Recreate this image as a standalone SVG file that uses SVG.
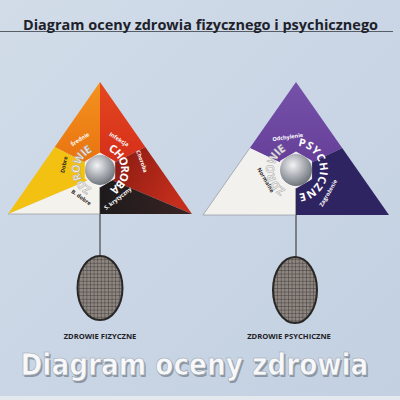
<svg xmlns="http://www.w3.org/2000/svg" width="400" height="400" viewBox="0 0 400 400">
<defs>
<linearGradient id="bg" x1="0" y1="0" x2="1" y2="1">
<stop offset="0" stop-color="#d2dce9"/><stop offset="1" stop-color="#c2d0e1"/>
</linearGradient>
<radialGradient id="sphere" cx="0.4" cy="0.35" r="0.7">
<stop offset="0" stop-color="#f2f3f5"/><stop offset="0.5" stop-color="#acb0b6"/><stop offset="1" stop-color="#676c73"/>
</radialGradient>
<linearGradient id="orange" x1="0" y1="0" x2="0" y2="1"><stop offset="0" stop-color="#f3931f"/><stop offset="1" stop-color="#e8700f"/></linearGradient>
<linearGradient id="red" x1="0" y1="0" x2="0" y2="1"><stop offset="0" stop-color="#e4481f"/><stop offset="1" stop-color="#d42c1a"/></linearGradient>
<linearGradient id="dred" x1="0" y1="0" x2="1" y2="0.4"><stop offset="0" stop-color="#7d1711"/><stop offset="1" stop-color="#c52e1c"/></linearGradient>
<linearGradient id="black" x1="0" y1="0" x2="1" y2="0"><stop offset="0" stop-color="#1d1a1b"/><stop offset="1" stop-color="#3a2424"/></linearGradient>
<linearGradient id="purple" x1="0" y1="0" x2="0" y2="1"><stop offset="0" stop-color="#7552a8"/><stop offset="1" stop-color="#653d98"/></linearGradient>
<pattern id="grid" width="3.6" height="3.6" patternUnits="userSpaceOnUse">
<rect width="3.6" height="3.6" fill="#8e8680"/>
<path d="M0 0H3.6M0 0V3.6" stroke="#3b3535" stroke-width="0.9"/>
</pattern>
<path id="arcL1" d="M107.87,150.53 A21,21 0 0 1 107.87,189.47"/>
<path id="arcL2" d="M91.55,188.13 A20,20 0 0 1 93.16,151.21"/>
<path id="arcR1" d="M298.09,146.09 A24,24 0 0 1 298.09,193.91"/>
<path id="arcR2" d="M285.67,189.42 A22,22 0 0 1 287.76,149.60"/>
</defs>
<style>
.lbl{font-family:"Open Sans","Liberation Sans",sans-serif;font-weight:bold;font-size:5.5px;text-anchor:middle}
.lw{fill:#ffffff}
.ld{fill:#2e2a2a}
.big{font-family:"Open Sans","Liberation Sans",sans-serif;font-weight:bold;font-size:11px}
.bw{fill:#ffffff}
.bg{fill:#f3f3f3;stroke:#a9a9a9;stroke-width:0.5}
.cap{font-family:"Open Sans","Liberation Sans",sans-serif;font-weight:bold;font-size:7.6px;fill:#222226;text-anchor:middle}
.edge{fill:none;stroke:#8f969f;stroke-width:0.7}
.hex{fill:#e6e8eb;stroke:#ffffff;stroke-width:0.8}
.foot{font-family:"DejaVu Sans","Liberation Sans",sans-serif;font-weight:bold;font-size:31px}
</style>
<rect width="400" height="400" fill="url(#bg)"/>
<rect x="0" y="396" width="400" height="4" fill="#e4e9ef"/>

<g id="header">
<line x1="0" y1="31.5" x2="393" y2="31.5" stroke="#3a3d44" stroke-width="0.8"/>
<text x="23" y="30" font-family="'Open Sans','Liberation Sans',sans-serif" font-weight="bold" font-size="13.5" fill="#20212b" textLength="355" lengthAdjust="spacingAndGlyphs">Diagram oceny zdrowia fizycznego i psychicznego</text>
</g>

<g id="connectors" stroke="#2b2b2b" stroke-width="1">
<line x1="100" y1="214" x2="100" y2="257"/>
<line x1="296" y1="215" x2="296" y2="257"/>
</g>

<g id="triangle-fizyczne">
<polygon points="100,170 100,82 54.7,147" fill="url(#orange)"/>
<polygon points="100,170 100,82 145.3,147" fill="url(#red)"/>
<polygon points="100,170 145.3,147 192,214 114,181" fill="url(#dred)"/>
<polygon points="100,170 114,181 192,214 100,214" fill="url(#black)"/>
<polygon points="100,170 100,214 8,214 86,181" fill="#f4f2ec"/>
<polygon points="100,170 86,181 8,214 54.7,147" fill="#f3c112"/>
<polyline class="edge" points="8,214 100,214"/>
<line x1="100" y1="187" x2="100" y2="214" stroke="#2b2b2b" stroke-width="0.8"/>
<polygon class="hex" points="100,153 114.7,161.5 114.7,178.5 100,187 85.3,178.5 85.3,161.5"/>
<circle cx="100" cy="170" r="15" fill="url(#sphere)"/>
<text class="big bw"><textPath href="#arcL1" textLength="48" lengthAdjust="spacing">CHOROBA</textPath></text>
<text class="big bg"><textPath href="#arcL2" textLength="46" lengthAdjust="spacing">ZDROWIE</textPath></text>
<text class="lbl lw" transform="translate(81,141) rotate(-32)">Średnie</text>
<text class="lbl lw" transform="translate(118,141) rotate(32)">Infekcja</text>
<text class="lbl lw" transform="translate(140,162) rotate(70)">Choroba</text>
<text class="lbl lw" transform="translate(119,200) rotate(-38)">S. krytyczny</text>
<text class="lbl ld" transform="translate(80,199) rotate(35)">B. dobre</text>
<text class="lbl ld" transform="translate(66,165) rotate(-78)">Dobre</text>
</g>

<g id="triangle-psychiczne">
<polygon points="296,170 249.8,148 296,82 342.2,148" fill="url(#purple)"/>
<polygon points="296,170 342.2,148 389,215 296,215" fill="#2f2462"/>
<polygon points="296,170 296,215 203,215 249.8,148" fill="#f2f1ee"/>
<polyline class="edge" points="249.8,148 203,215 296,215"/>
<line x1="296" y1="188" x2="296" y2="215" stroke="#2b2b2b" stroke-width="0.8"/>
<polygon class="hex" points="296,152 311.6,161 311.6,179 296,188 280.4,179 280.4,161"/>
<circle cx="296" cy="170" r="16" fill="url(#sphere)"/>
<text class="big bw"><textPath href="#arcR1" textLength="70" lengthAdjust="spacing">PSYCHICZNE</textPath></text>
<text class="big bg"><textPath href="#arcR2" textLength="48" lengthAdjust="spacing">ZDROWIE</textPath></text>
<text class="lbl lw" transform="translate(288,139) rotate(-8)">Odchylenie</text>
<text class="lbl ld" transform="translate(264,181) rotate(60)">Normalne</text>
<text class="lbl lw" transform="translate(330,194) rotate(-60)">Zagrożenie</text>
</g>

<g id="oval-fizyczne">
<ellipse cx="100" cy="288" rx="22.5" ry="32" fill="url(#grid)" stroke="#2a2727" stroke-width="2"/>
<text class="cap" x="100" y="339">ZDROWIE  FIZYCZNE</text>
</g>

<g id="oval-psychiczne">
<ellipse cx="295" cy="290" rx="22" ry="33" fill="url(#grid)" stroke="#2a2727" stroke-width="2"/>
<text class="cap" x="289" y="339">ZDROWIE  PSYCHICZNE</text>
</g>

<g id="footer">
<text class="foot" transform="translate(22,376.5) scale(0.85,1)" fill="#7d8894" opacity="0.8">Diagram oceny zdrowia</text>
<text class="foot" transform="translate(20.5,375) scale(0.85,1)" fill="#f7f8fa" stroke="#9aa3ad" stroke-width="0.6">Diagram oceny zdrowia</text>
</g>
</svg>
